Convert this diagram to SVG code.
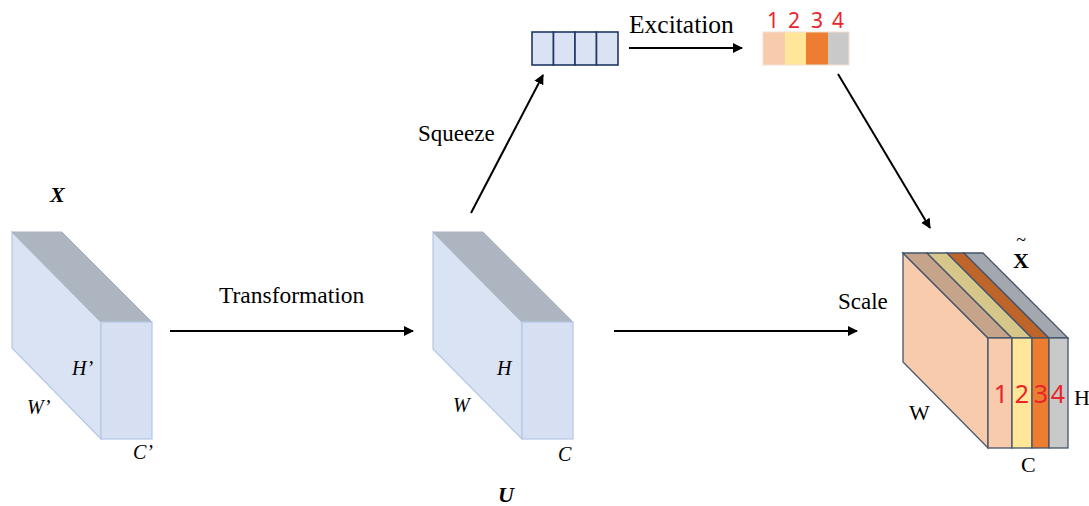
<svg xmlns="http://www.w3.org/2000/svg" width="1089" height="506" viewBox="0 0 1089 506">
<defs>
<marker id="ah" viewBox="0 0 10 10" refX="9" refY="5" markerWidth="5" markerHeight="5" orient="auto" markerUnits="strokeWidth">
<path d="M0,0 L10,5 L0,10 z" fill="#000"/>
</marker>
<style>
.t{font-family:"Liberation Serif","Times New Roman",serif;font-size:22px;fill:#000}
.ti{font-family:"Liberation Serif","Times New Roman",serif;font-size:20px;font-style:italic;fill:#000}
.tb{font-family:"Liberation Serif","Times New Roman",serif;font-size:22px;font-style:italic;font-weight:bold;fill:#000}
.red{font-family:"Noto Sans","DejaVu Sans",sans-serif;font-size:21px;fill:#e8252a}
.red2{font-family:"Noto Sans","DejaVu Sans",sans-serif;font-size:25px;fill:#e8252a}
.side{fill:#dae3f3;stroke:#b4c7e7;stroke-width:1.2}
.top{fill:#adb5c0;stroke:#adb5c0;stroke-width:1}
.front{fill:#d6e0f2;stroke:#b4c7e7;stroke-width:1.2}
.conn{stroke:#000;stroke-width:2;fill:none;marker-end:url(#ah)}
.cell{fill:#dae3f3;stroke:#1f3864;stroke-width:1.6}
.sb{stroke:#44546a;stroke-width:1.3}
</style>
</defs>
<rect width="1089" height="506" fill="#fff"/>

<g id="connectors">
<line class="conn" x1="170" y1="331" x2="413" y2="331"/>
<line class="conn" x1="614" y1="331" x2="857" y2="331"/>
<line class="conn" x1="471" y1="213" x2="543" y2="75"/>
<line class="conn" x1="629" y1="48" x2="742" y2="48"/>
<line class="conn" x1="838" y1="74" x2="930" y2="228"/>
<text class="t" x="219" y="303" style="font-size:23.5px">Transformation</text>
<text class="t" x="838" y="309" style="font-size:23px">Scale</text>
<text class="t" x="418" y="141" style="font-size:23px">Squeeze</text>
<text class="t" x="629" y="33" style="font-size:25.5px">Excitation</text>
</g>

<g id="node-X">
<polygon class="side" points="12,232 101,322 101,439 12,348"/>
<polygon class="top" points="12,232 62,232 152,322 101,322"/>
<rect class="front" x="101" y="322" width="51" height="117"/>
<text class="tb" x="50" y="202">X</text>
<text class="ti" x="72" y="375">H’</text>
<text class="ti" x="27" y="414">W’</text>
<text class="ti" x="133" y="459">C’</text>
</g>

<g id="node-U">
<polygon class="side" points="433,232 522,322 522,439 433,349"/>
<polygon class="top" points="433,232 483,232 573,322 522,322"/>
<rect class="front" x="522" y="322" width="51" height="117"/>
<text class="tb" x="498" y="502">U</text>
<text class="ti" x="497" y="375">H</text>
<text class="ti" x="453" y="412">W</text>
<text class="ti" x="558" y="461">C</text>
</g>

<g id="node-squeeze-vector">
<rect class="cell" x="532" y="32" width="21.5" height="33"/>
<rect class="cell" x="553.5" y="32" width="21.5" height="33"/>
<rect class="cell" x="575" y="32" width="21.5" height="33"/>
<rect class="cell" x="596.5" y="32" width="21.5" height="33"/>
</g>

<g id="node-excitation-vector">
<rect x="763" y="32" width="22" height="33" fill="#f8cbad"/>
<rect x="785" y="32" width="21" height="33" fill="#ffe699"/>
<rect x="806" y="32" width="22" height="33" fill="#ed7d31"/>
<rect x="828" y="32" width="21" height="33" fill="#c9c9c9"/>
<rect x="763" y="32" width="86" height="33" fill="none" stroke="#f4e0d0" stroke-width="1"/>
<text class="red" x="773" y="28" text-anchor="middle">1</text>
<text class="red" x="794" y="28" text-anchor="middle">2</text>
<text class="red" x="817" y="28" text-anchor="middle">3</text>
<text class="red" x="838" y="28" text-anchor="middle">4</text>
</g>

<g id="node-X-tilde">
<polygon class="sb" points="903,253 988,338 988,448 903,362" fill="#f8cbad"/>
<polygon class="sb" points="903,253 927,253 1012,338 988,338" fill="#c5a48a"/>
<polygon class="sb" points="927,253 947,253 1032,338 1012,338" fill="#d6c68a"/>
<polygon class="sb" points="947,253 964,253 1049,338 1032,338" fill="#c0652a"/>
<polygon class="sb" points="964,253 983,253 1068,338 1049,338" fill="#a3a7ae"/>
<rect class="sb" x="988" y="338" width="24" height="110" fill="#f8cbad"/>
<rect class="sb" x="1012" y="338" width="20" height="110" fill="#ffe699"/>
<rect class="sb" x="1032" y="338" width="17" height="110" fill="#ed7d31"/>
<rect class="sb" x="1049" y="338" width="19" height="110" fill="#c9c9c9"/>
<text class="red2" x="1001" y="403" text-anchor="middle">1</text>
<text class="red2" x="1022" y="403" text-anchor="middle">2</text>
<text class="red2" x="1041" y="403" text-anchor="middle">3</text>
<text class="red2" x="1058" y="403" text-anchor="middle">4</text>
<text class="t" x="1074" y="405">H</text>
<text class="t" x="909" y="420">W</text>
<text class="t" x="1021" y="472">C</text>
<text class="t" text-anchor="middle"><tspan x="1021" y="246" style="font-size:18px">~</tspan><tspan x="1021" y="268" font-weight="bold">X</tspan></text>
</g>
</svg>
